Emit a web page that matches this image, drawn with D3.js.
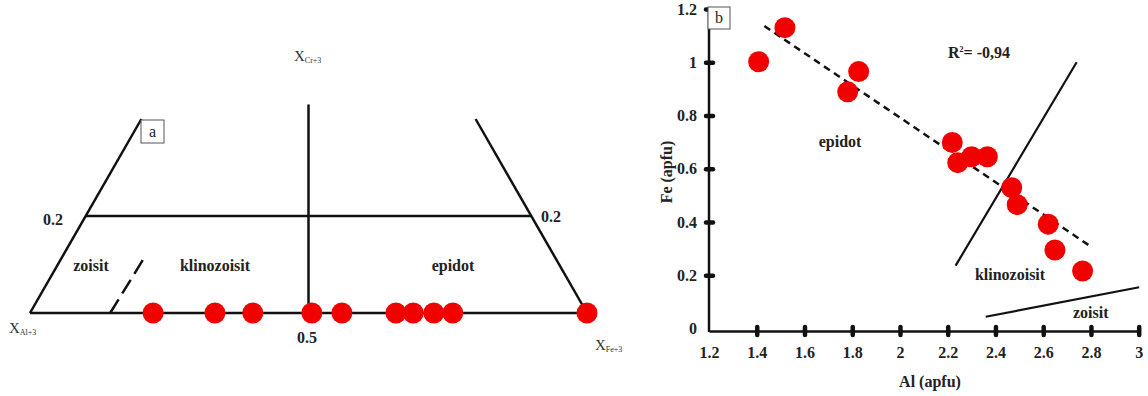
<!DOCTYPE html>
<html>
<head>
<meta charset="utf-8">
<script src="https://cdn.jsdelivr.net/npm/d3@7"></script>
<style>
  body { margin: 0; background: #fff; }
  text { font-family: "Liberation Serif", "DejaVu Serif", serif; font-weight: bold; fill: #222; }
</style>
</head>
<body>
<div id="chart"></div>
<script>
// panel a: positions of samples along the Al - Fe join (fraction of Fe+3)
var aSamples = [0.221, 0.332, 0.400, 0.506, 0.560, 0.657, 0.688, 0.725, 0.759, 1.0];

// panel b: Al vs Fe (apfu)
var bAl = [1.408, 1.518, 1.827, 1.781, 2.219, 2.242, 2.300, 2.366, 2.468, 2.491, 2.621, 2.649, 2.765];
var bFe = [1.002, 1.130, 0.965, 0.889, 0.699, 0.623, 0.645, 0.645, 0.529, 0.465, 0.392, 0.295, 0.216];
var trendLine = [[1.432, 1.136], [2.789, 0.314]];
var klinoLine = [[2.233, 0.236], [2.740, 1.000]];
var zoisitLine = [[2.359, 0.044], [3.002, 0.155]];
var xTicks = [1.2, 1.4, 1.6, 1.8, 2, 2.2, 2.4, 2.6, 2.8, 3];
var yTicks = [0, 0.2, 0.4, 0.6, 0.8, 1, 1.2];

var W = 1148, H = 396;
var FS = "16px";
var svg = d3.select("#chart").append("svg")
    .attr("width", W).attr("height", H);

// ---------- panel a ----------
var xa = d3.scaleLinear().domain([0, 1]).range([30, 587]);
var ya = d3.scaleLinear().domain([0, 0.2]).range([313, 216]);
var pa = function(fe, cr) { return [xa(fe), ya(cr)]; };
var ga = svg.append("g");
var lineA = d3.line().x(d => pa(d[0], d[1])[0]).y(d => pa(d[0], d[1])[1]);

var framesA = [
    [[0, 0], [1, 0]],          // base
    [[0, 0], [0.2, 0.4]],      // left edge
    [[1, 0], [0.8, 0.4]],      // right edge
    [[0.1, 0.2], [0.9, 0.2]],  // 0.2 line
    [[0.5, 0], [0.5, 0.43]]    // 0.5 line
];
framesA.forEach(function(f) {
    ga.append("path").attr("d", lineA(f))
        .attr("stroke", "#111").attr("stroke-width", 2.5).attr("fill", "none");
});
ga.append("path").attr("d", lineA([[0.144, 0], [0.203, 0.11]]))
    .attr("stroke", "#111").attr("stroke-width", 2.5).attr("fill", "none")
    .attr("stroke-dasharray", "16,7");

ga.selectAll("circle").data(aSamples).enter().append("circle")
    .attr("cx", d => xa(d)).attr("cy", ya(0)).attr("r", 10.5).attr("fill", "#f20000");

ga.append("rect").attr("x", 141).attr("y", 120).attr("width", 23).attr("height", 23)
    .attr("fill", "#fff").attr("stroke", "#555").attr("stroke-width", 1);
ga.append("text").attr("x", 152.5).attr("y", 137).attr("text-anchor", "middle")
    .style("font-weight", "normal").style("font-size", "16px").text("a");

var labA = [
    {t: "0.2", x: 53, y: 225},
    {t: "0.2", x: 551, y: 222},
    {t: "0.5", x: 307, y: 343},
    {t: "zoisit", x: 91, y: 271},
    {t: "klinozoisit", x: 215, y: 271},
    {t: "epidot", x: 453, y: 271}
];
labA.forEach(function(l) {
    ga.append("text").attr("x", l.x).attr("y", l.y).attr("text-anchor", "middle")
        .style("font-size", FS).text(l.t);
});

function xLabel(x, y, sub) {
    var t = ga.append("text").attr("x", x).attr("y", y)
        .style("font-weight", "normal").style("font-size", "15px").style("fill", "#333");
    t.append("tspan").text("X");
    t.append("tspan").attr("dy", 2).style("font-size", "8px").text(sub);
}
xLabel(9, 333, "Al+3");
xLabel(595, 350, "Fe+3");
xLabel(294, 61, "Cr+3");

// ---------- panel b ----------
var xb = d3.scaleLinear().domain([1.2, 3]).range([709, 1138.7]);
var yb = d3.scaleLinear().domain([0, 1.2]).range([328.5, 9]);
var gb = svg.append("g");
var axisY0 = 331;

var gx = gb.append("g").attr("transform", "translate(0," + axisY0 + ")")
    .call(d3.axisBottom(xb).tickValues(xTicks).tickSize(0).tickPadding(16)
        .tickFormat(d => String(+d.toFixed(1))));
gx.select(".domain").attr("stroke", "#111").attr("stroke-width", 2.5);
gx.selectAll(".tick").filter(d => d > 1.2).append("line")
    .attr("y1", -4).attr("y2", 4).attr("stroke", "#111")
    .attr("stroke-width", 4.5).attr("stroke-linecap", "round");
gx.selectAll(".tick text").style("font-size", FS)
    .style("font-family", "Liberation Serif").style("font-weight", "bold").attr("fill", "#222");

var gy = gb.append("g").attr("transform", "translate(709,0)")
    .call(d3.axisLeft(yb).tickValues(yTicks).tickSize(0).tickPadding(12)
        .tickFormat(d => String(+d.toFixed(1))));
gy.select(".domain").remove();
gy.append("line").attr("y1", yb(1.2)).attr("y2", axisY0 + 1)
    .attr("stroke", "#111").attr("stroke-width", 2.5);
gy.selectAll(".tick").filter(d => d > 0).append("line")
    .attr("x1", -3).attr("x2", 4).attr("stroke", "#111")
    .attr("stroke-width", 4.5).attr("stroke-linecap", "round");
gy.selectAll(".tick text").style("font-size", FS)
    .style("font-family", "Liberation Serif").style("font-weight", "bold").attr("fill", "#222");

gb.append("text").attr("x", 930).attr("y", 387).attr("text-anchor", "middle")
    .style("font-size", FS).text("Al (apfu)");
gb.append("text").attr("transform", "translate(672,172) rotate(-90)")
    .attr("text-anchor", "middle").style("font-size", FS).text("Fe (apfu)");

var lineB = d3.line().x(d => xb(d[0])).y(d => yb(d[1]));
gb.append("path").attr("d", lineB(trendLine)).attr("stroke", "#111")
    .attr("stroke-width", 2.5).attr("stroke-dasharray", "7,5").attr("fill", "none");
gb.append("path").attr("d", lineB(klinoLine)).attr("stroke", "#111")
    .attr("stroke-width", 2.2).attr("fill", "none");
gb.append("path").attr("d", lineB(zoisitLine)).attr("stroke", "#111")
    .attr("stroke-width", 2.2).attr("fill", "none");

gb.selectAll("circle").data(bAl).enter().append("circle")
    .attr("cx", d => xb(d)).attr("cy", (d, i) => yb(bFe[i]))
    .attr("r", 10.5).attr("fill", "#f20000");

gb.append("rect").attr("x", 708).attr("y", 7).attr("width", 22).attr("height", 22)
    .attr("fill", "#fff").attr("stroke", "#555").attr("stroke-width", 1);
gb.append("text").attr("x", 719).attr("y", 23).attr("text-anchor", "middle")
    .style("font-weight", "normal").style("font-size", "16px").text("b");

var r2 = gb.append("text").attr("x", xb(2.201)).attr("y", yb(1.035) + 5)
    .style("font-size", FS);
r2.append("tspan").text("R");
r2.append("tspan").attr("dy", -6).style("font-size", "8px").text("2");
r2.append("tspan").attr("dy", 6).text("= -0,94");

var labB = [
    {t: "epidot", al: 1.749, fe: 0.700},
    {t: "klinozoisit", al: 2.461, fe: 0.201},
    {t: "zoisit", al: 2.799, fe: 0.058}
];
labB.forEach(function(l) {
    gb.append("text").attr("x", xb(l.al)).attr("y", yb(l.fe) + 5)
        .attr("text-anchor", "middle").style("font-size", FS).text(l.t);
});
</script>
</body>
</html>
